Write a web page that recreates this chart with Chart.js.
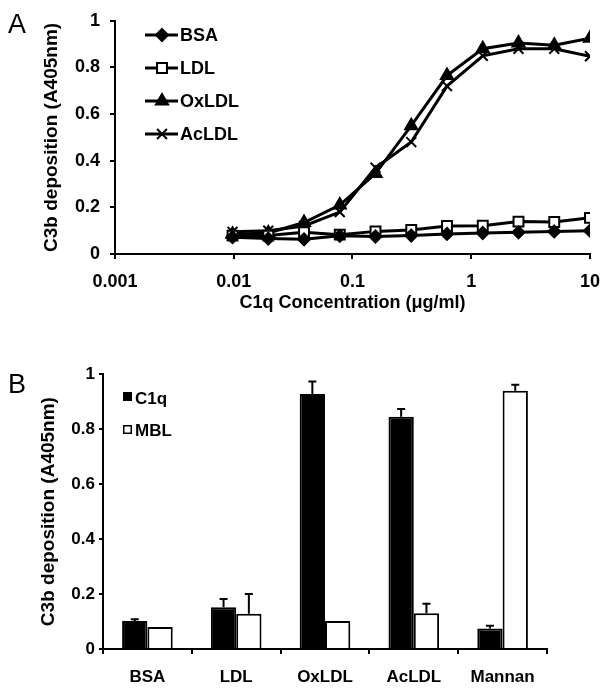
<!DOCTYPE html>
<html><head><meta charset="utf-8">
<script src="https://cdn.jsdelivr.net/npm/chart.js@4/dist/chart.umd.min.js"></script>
<style>
body{margin:0;background:#fff;width:612px;height:692px;position:relative;overflow:hidden;font-family:"Liberation Sans",Arial,sans-serif}
#wa{position:absolute;left:0;top:0;width:612px;height:330px}
#wb{position:absolute;left:0;top:360px;width:612px;height:332px}
.lab{position:absolute;font-size:27px;line-height:1;color:#000;font-weight:normal}
</style></head><body>
<div id="wa"><canvas id="ca"></canvas></div>
<div id="wb"><canvas id="cb"></canvas></div>
<div class="lab" style="left:8px;top:11px">A</div>
<div class="lab" style="left:8px;top:371px">B</div>
<script>
// ---------- Panel A data ----------
const concentrations = [0.009765625, 0.01953125, 0.0390625, 0.078125, 0.15625, 0.3125, 0.625, 1.25, 2.5, 5, 10];
const bsaValues   = [0.072, 0.066, 0.063, 0.078, 0.075, 0.079, 0.086, 0.090, 0.093, 0.097, 0.100];
const ldlValues   = [0.079, 0.079, 0.093, 0.083, 0.097, 0.103, 0.120, 0.121, 0.139, 0.137, 0.155];
const oxldlValues = [0.085, 0.090, 0.135, 0.210, 0.345, 0.550, 0.765, 0.880, 0.905, 0.895, 0.925];
const acldlValues = [0.095, 0.100, 0.120, 0.180, 0.370, 0.480, 0.720, 0.850, 0.880, 0.880, 0.848];
const seriesNamesA = ['BSA', 'LDL', 'OxLDL', 'AcLDL'];
const xTickValues = [0.001, 0.01, 0.1, 1, 10];
const xTickLabels = ['0.001', '0.01', '0.1', '1', '10'];
const yTickLabels = ['0', '0.2', '0.4', '0.6', '0.8', '1'];

// ---------- Panel B data ----------
const categoriesB = ['BSA', 'LDL', 'OxLDL', 'AcLDL', 'Mannan'];
const c1qValues = [0.102, 0.152, 0.928, 0.845, 0.075];
const c1qErrors = [0.006, 0.030, 0.045, 0.028, 0.010];
const mblValues = [0.080, 0.128, 0.102, 0.130, 0.940];
const mblErrors = [0, 0.072, 0, 0.035, 0.022];

const F = "'Liberation Sans', Arial, Helvetica, sans-serif";
Chart.defaults.font.family = F;
Chart.defaults.font.weight = 'bold';
Chart.defaults.color = '#000';
Chart.defaults.animation = false;

const valuesA = [bsaValues, ldlValues, oxldlValues, acldlValues];
const markerA = [
  {style: 'rectRot', radius: 6, bg: '#000'},
  {style: 'rect', radius: 7, bg: '#fff'},
  {style: 'triangle', radius: 7, bg: '#000'},
  {style: 'crossRot', radius: 7, bg: '#000'}
];

const legendA = {
  id: 'legendA',
  afterDraw(chart) {
    const ctx = chart.ctx;
    ctx.save();
    chart.data.datasets.forEach((ds, i) => {
      const y = 35 + i * 33;
      ctx.strokeStyle = '#000';
      ctx.lineWidth = 3;
      ctx.beginPath(); ctx.moveTo(145, y); ctx.lineTo(178, y); ctx.stroke();
      ctx.fillStyle = ds.pointBackgroundColor;
      ctx.lineWidth = 2;
      Chart.helpers.drawPoint(ctx, {pointStyle: ds.pointStyle, radius: ds.pointRadius, borderWidth: 2, rotation: 0}, 162, y);
      ctx.fillStyle = '#000';
      ctx.font = 'bold 18px ' + F;
      ctx.textBaseline = 'middle';
      ctx.textAlign = 'left';
      ctx.fillText(ds.label, 180, y + 1);
    });
    ctx.restore();
  }
};

new Chart(document.getElementById('ca'), {
  type: 'line',
  data: {
    datasets: seriesNamesA.map((n, i) => ({
      label: n,
      data: concentrations.map((c, j) => ({x: c, y: valuesA[i][j]})),
      borderColor: '#000',
      borderWidth: 3,
      pointStyle: markerA[i].style,
      pointRadius: markerA[i].radius,
      pointBackgroundColor: markerA[i].bg,
      pointBorderColor: '#000',
      pointBorderWidth: 2,
      tension: 0,
      fill: false
    }))
  },
  options: {
    responsive: true,
    maintainAspectRatio: false,
    layout: {padding: {left: 40, right: 19, top: 15, bottom: 16}},
    plugins: {legend: {display: false}, tooltip: {enabled: false}},
    scales: {
      x: {
        type: 'logarithmic', min: 0.001, max: 10,
        afterBuildTicks: s => { s.ticks = xTickValues.map(v => ({value: v, major: true})); },
        ticks: {callback: (v, i) => xTickLabels[i], font: {size: 18, weight: 'bold'}, padding: 12, autoSkip: false, maxRotation: 0},
        grid: {drawOnChartArea: false, drawTicks: true, tickLength: 5, color: '#000', lineWidth: 2},
        border: {display: true, color: '#000', width: 2},
        title: {display: true, text: 'C1q Concentration (μg/ml)', font: {size: 18, weight: 'bold'}, padding: 0},
        afterFit: s => { s.height = 60; }
      },
      y: {
        min: 0, max: 1,
        ticks: {stepSize: 0.2, callback: (v, i) => yTickLabels[i], font: {size: 18, weight: 'bold'}, padding: 10},
        grid: {drawOnChartArea: false, drawTicks: true, tickLength: 5, color: '#000', lineWidth: 2},
        border: {display: true, color: '#000', width: 2},
        title: {display: true, text: 'C3b deposition (A405nm)', font: {size: 19, weight: 'bold'}, padding: 0},
        afterFit: s => { s.width = 75; }
      }
    }
  },
  plugins: [legendA]
});

// ---------- Panel B ----------
const errorBars = {
  id: 'errorBars',
  afterDatasetsDraw(chart) {
    const ctx = chart.ctx, ys = chart.scales.y;
    ctx.save();
    ctx.strokeStyle = '#000';
    ctx.lineWidth = 2;
    chart.data.datasets.forEach((ds, i) => {
      const meta = chart.getDatasetMeta(i);
      meta.data.forEach((bar, j) => {
        const e = ds.errors[j];
        if (!e) return;
        const yTop = ys.getPixelForValue(ds.data[j] + e);
        ctx.beginPath();
        ctx.moveTo(bar.x, bar.y); ctx.lineTo(bar.x, yTop);
        ctx.moveTo(bar.x - 4, yTop); ctx.lineTo(bar.x + 4, yTop);
        ctx.stroke();
      });
    });
    ctx.restore();
  }
};

const legendB = {
  id: 'legendB',
  afterDraw(chart) {
    const ctx = chart.ctx;
    ctx.save();
    const rows = [{sq: 32, ty: 39}, {sq: 65, ty: 71}];
    chart.data.datasets.forEach((ds, i) => {
      const r = rows[i];
      ctx.fillStyle = ds.backgroundColor;
      ctx.strokeStyle = '#000';
      ctx.lineWidth = 1.5;
      ctx.fillRect(123, r.sq, 9, 9);
      ctx.strokeRect(123.75, r.sq + 0.75, 7.5, 7.5);
      ctx.fillStyle = '#000';
      ctx.font = 'bold 17px ' + F;
      ctx.textBaseline = 'middle';
      ctx.textAlign = 'left';
      ctx.fillText(ds.label, 135, r.ty);
    });
    ctx.restore();
  }
};

new Chart(document.getElementById('cb'), {
  type: 'bar',
  data: {
    labels: categoriesB,
    datasets: [
      {label: 'C1q', data: c1qValues, errors: c1qErrors, backgroundColor: '#000', borderColor: '#000', borderWidth: 2},
      {label: 'MBL', data: mblValues, errors: mblErrors, backgroundColor: '#fff', borderColor: '#000', borderWidth: 2}
    ]
  },
  options: {
    responsive: true,
    maintainAspectRatio: false,
    categoryPercentage: 0.57,
    barPercentage: 1,
    layout: {padding: {left: 37, right: 65, top: 13, bottom: 0}},
    plugins: {legend: {display: false}, tooltip: {enabled: false}},
    scales: {
      x: {
        offset: true,
        ticks: {font: {size: 17, weight: 'bold'}, padding: 13, autoSkip: false, maxRotation: 0},
        grid: {offset: true, drawOnChartArea: false, drawTicks: true, tickLength: 5, color: '#000', lineWidth: 2},
        border: {display: true, color: '#000', width: 2},
        afterFit: s => { s.height = 43; }
      },
      y: {
        min: 0, max: 1,
        ticks: {stepSize: 0.2, callback: (v, i) => yTickLabels[i], font: {size: 17, weight: 'bold'}, padding: 4},
        grid: {drawOnChartArea: false, drawTicks: true, tickLength: 4, color: '#000', lineWidth: 2},
        border: {display: true, color: '#000', width: 2},
        title: {display: true, text: 'C3b deposition (A405nm)', font: {size: 19, weight: 'bold'}, padding: 0},
        afterFit: s => { s.width = 66; }
      }
    }
  },
  plugins: [errorBars, legendB]
});
</script>
</body></html>
